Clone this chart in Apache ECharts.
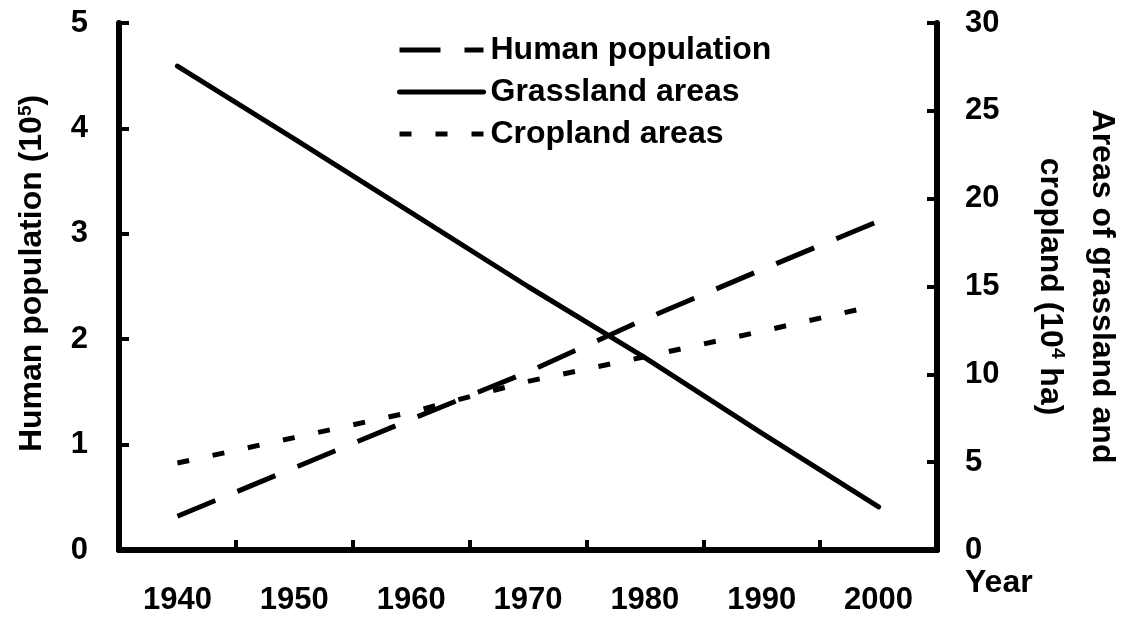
<!DOCTYPE html>
<html>
<head>
<meta charset="utf-8">
<script src="https://cdn.jsdelivr.net/npm/echarts@6/dist/echarts.min.js"></script>
<style>
  html, body { margin: 0; padding: 0; background: #fff; }
  #chart { width: 1122px; height: 620px; }
</style>
</head>
<body>
<div id="chart"></div>
<script>
// years on the x axis
const years = ['1940', '1950', '1960', '1970', '1980', '1990', '2000'];
// human population, 10^5 (left axis)
const humanPopulation = [0.32, 0.78, 1.24, 1.69, 2.19, 2.66, 3.12];
// grassland areas, 10^4 ha (right axis)
const grasslandAreas = [27.55, 23.4, 19.2, 15.0, 10.95, 6.65, 2.45];
// cropland areas, 10^4 ha (right axis)
const croplandAreas = [4.95, 6.4, 7.85, 9.6, 11.0, 12.45, 13.95];

const font = 'Liberation Sans, Arial, sans-serif';
const black = '#000';
const humanDash = [41, 24];
const cropDash = [12, 24];

const chart = echarts.init(document.getElementById('chart'));

function yAxisBase() {
  return {
    type: 'value',
    min: 0,
    splitLine: { show: false },
    axisLine: { show: true, lineStyle: { color: black, width: 6 } },
    axisTick: { show: true, inside: true, length: 10, lineStyle: { color: black, width: 4 } },
    axisLabel: { color: black, fontSize: 31, fontWeight: 'bold', fontFamily: font },
    nameLocation: 'middle',
    nameTextStyle: {
      color: black, fontSize: 32, fontWeight: 'bold', fontFamily: font,
      rich: {
        sup: { fontSize: 19, fontWeight: 'bold', fontFamily: font, color: black, padding: [0, 0, 14, 0] }
      }
    }
  };
}

const leftAxis = yAxisBase();
leftAxis.max = 5;
leftAxis.interval = 1;
leftAxis.position = 'left';
leftAxis.name = 'Human population (10{sup|5})';
leftAxis.nameRotate = 90;
leftAxis.nameGap = 70;
leftAxis.nameTextStyle.padding = [0, 0, 0, 26];
leftAxis.axisLabel.margin = 31;

const rightAxis = yAxisBase();
rightAxis.max = 30;
rightAxis.interval = 5;
rightAxis.position = 'right';
rightAxis.name = 'Areas of grassland and\ncropland (10{sup|4} ha)';
rightAxis.nameRotate = -90;
rightAxis.nameGap = 87;
rightAxis.nameTextStyle.lineHeight = 52;
rightAxis.axisLabel.margin = 28;

// legend entries: line only, no symbol
const legendData = [
  { name: 'Human population', lineStyle: { width: 5, type: humanDash } },
  { name: 'Grassland areas', lineStyle: { width: 5, type: 'solid' } },
  { name: 'Cropland areas', lineStyle: { width: 5, type: cropDash } }
];

chart.setOption({
  animation: false,
  backgroundColor: '#fff',
  grid: { left: 119, right: 185, top: 23, bottom: 70, outerBoundsMode: 'none' },
  legend: {
    orient: 'vertical',
    left: 397,
    top: 34,
    padding: 0,
    itemWidth: 84,
    itemHeight: 14,
    itemGap: 10,
    itemStyle: { opacity: 0 },
    textStyle: { color: black, fontSize: 32, fontWeight: 'bold', fontFamily: font, padding: [0, 0, 0, 2] },
    data: legendData
  },
  xAxis: {
    type: 'category',
    data: years,
    boundaryGap: true,
    axisLine: { show: true, lineStyle: { color: black, width: 6 } },
    axisTick: { show: true, inside: true, length: 10, lineStyle: { color: black, width: 4 } },
    axisLabel: { color: black, fontSize: 31, fontWeight: 'bold', fontFamily: font, margin: 35 },
    splitLine: { show: false },
    name: 'Year',
    nameLocation: 'end',
    nameGap: 28,
    nameTextStyle: {
      color: black, fontSize: 32, fontWeight: 'bold', fontFamily: font,
      align: 'left', verticalAlign: 'top', padding: [17, 0, 0, 0]
    }
  },
  yAxis: [leftAxis, rightAxis],
  series: [
    {
      name: 'Human population',
      type: 'line',
      yAxisIndex: 0,
      data: humanPopulation,
      symbol: 'none',
      lineStyle: { color: black, width: 5, type: humanDash },
      itemStyle: { color: black }
    },
    {
      name: 'Grassland areas',
      type: 'line',
      yAxisIndex: 1,
      data: grasslandAreas,
      symbol: 'none',
      lineStyle: { color: black, width: 5, cap: 'round' },
      itemStyle: { color: black }
    },
    {
      name: 'Cropland areas',
      type: 'line',
      yAxisIndex: 1,
      data: croplandAreas,
      symbol: 'none',
      lineStyle: { color: black, width: 5, type: cropDash },
      itemStyle: { color: black }
    }
  ]
});
</script>
</body>
</html>
